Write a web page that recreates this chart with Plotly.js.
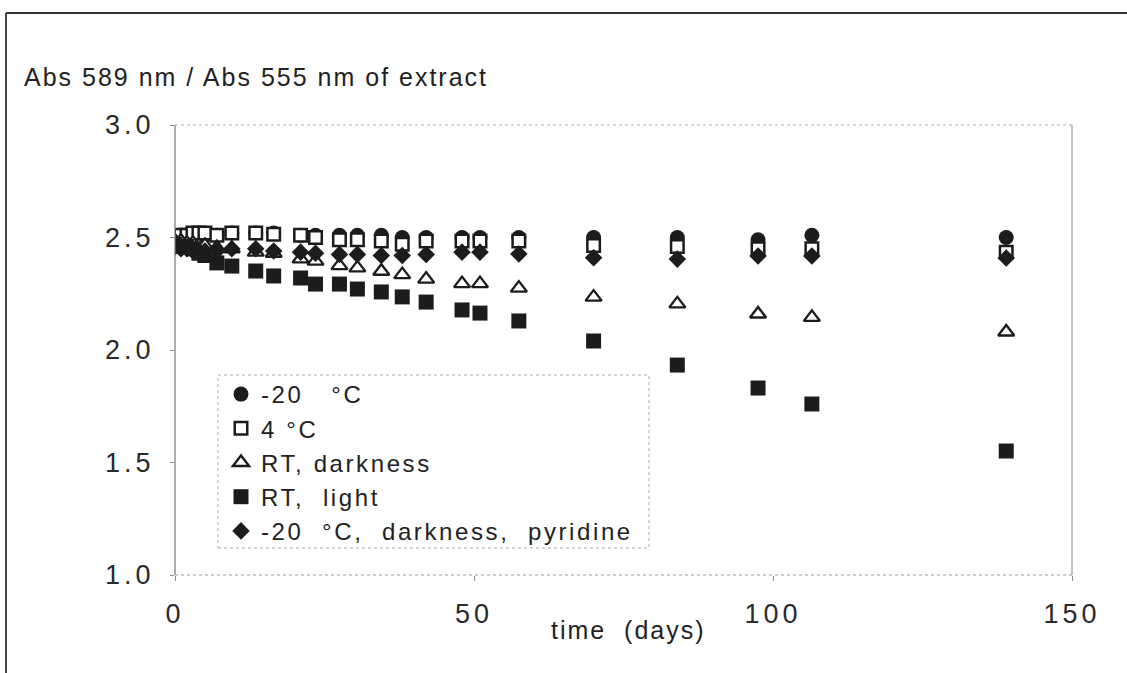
<!DOCTYPE html>
<html>
<head>
<meta charset="utf-8">
<script src="https://cdn.plot.ly/plotly-3.0.1.min.js"></script>
<style>
html,body{margin:0;padding:0;background:#fff;}
#chart{width:1127px;height:673px;}
text{letter-spacing:2px;}
.legendtext{letter-spacing:2.6px;}
#chart .xtick text, #chart .ytick text{letter-spacing:4px;}
</style>
</head>
<body>
<div id="chart"></div>
<script>
// time (days)
const days = [0,1,2,3,4,5,7,9.5,13.5,16.5,21,23.5,27.5,30.5,34.5,38,42,48,51,57.5,70,84,97.5,106.5,139];
// Abs 589 / Abs 555 ratios
const minus20C   = [2.50,2.51,2.51,2.51,2.51,2.51,2.51,2.52,2.52,2.52,2.51,2.51,2.51,2.51,2.51,2.50,2.50,2.50,2.50,2.50,2.50,2.50,2.49,2.51,2.50];
const plus4C     = [2.50,2.51,2.51,2.52,2.52,2.52,2.51,2.52,2.52,2.515,2.51,2.50,2.49,2.49,2.485,2.47,2.485,2.485,2.485,2.485,2.465,2.46,2.45,2.45,2.435];
const rtDark     = [2.485,2.485,2.475,2.475,2.465,2.465,2.455,2.45,2.435,2.43,2.405,2.395,2.375,2.365,2.35,2.335,2.315,2.295,2.295,2.275,2.235,2.205,2.16,2.145,2.08];
const rtLight    = [2.47,2.46,2.46,2.45,2.43,2.42,2.387,2.373,2.351,2.329,2.32,2.293,2.293,2.271,2.258,2.236,2.213,2.178,2.164,2.129,2.04,1.933,1.831,1.76,1.551];
const pyridine   = [2.46,2.45,2.45,2.44,2.44,2.44,2.44,2.45,2.45,2.44,2.435,2.43,2.425,2.425,2.42,2.42,2.425,2.435,2.435,2.427,2.41,2.404,2.418,2.418,2.409];
const seriesNames = ["-20 \u00a0\u00a0°C", "4 °C", "RT, darkness", "RT, \u00a0light", "-20 \u00a0°C, \u00a0darkness, \u00a0pyridine"];
const xTicks = [0,50,100,150];
const yTicks = [1.0,1.5,2.0,2.5,3.0];

const ink = "#1c1c1c";
const FONT = "Liberation Sans, Arial, sans-serif";

function tr(y, name, symbol, size, fill, lw) {
  return {
    x: days, y: y, name: name, type: "scatter", mode: "markers",
    marker: {symbol: symbol, size: size, color: fill, line: {color: ink, width: lw}},
    hoverinfo: "x+y"
  };
}

const data = [
  tr(minus20C, seriesNames[0], "circle", 15, ink, 0),
  tr(plus4C, seriesNames[1], "square", 12.5, "#ffffff", 2.5),
  tr(rtDark, seriesNames[2], "triangle-up", 14, "#ffffff", 2.4),
  tr(rtLight, seriesNames[3], "square", 15, ink, 0),
  tr(pyridine, seriesNames[4], "diamond", 13.5, ink, 0)
];

// plot area: x 175..1072, y 125..575
const L = 175, R = 1072, T = 125, B = 575;
const px = v => (v - L) / (R - L);
const py = v => (B - v) / (B - T);

const layout = {
  width: 1127, height: 673,
  margin: {l: L, r: 1127 - R, t: T, b: 673 - B},
  paper_bgcolor: "#ffffff", plot_bgcolor: "#ffffff",
  font: {family: FONT, color: "#222", size: 25},
  showlegend: true,
  legend: {
    x: px(221), y: py(372), xanchor: "left", yanchor: "top",
    bgcolor: "rgba(0,0,0,0)", borderwidth: 0,
    font: {family: FONT, size: 24, color: "#222"},
    traceorder: "normal",
    itemwidth: 30
  },
  xaxis: {
    range: [0, 150], tickvals: xTicks, ticktext: xTicks.map(String),
    showgrid: false, zeroline: false, showline: false,
    ticks: "outside", ticklen: 5, tickcolor: "#888", ticklabelstandoff: 10,
    tickfont: {family: FONT, size: 27, color: "#2a2a2a"}
  },
  yaxis: {
    range: [1.0, 3.0], tickvals: yTicks, ticktext: yTicks.map(v => v.toFixed(1)),
    showgrid: false, zeroline: false, showline: false,
    ticks: "outside", ticklen: 4, tickcolor: "#888", ticklabelstandoff: 10,
    tickfont: {family: FONT, size: 27, color: "#2a2a2a"}
  },
  annotations: [
    {text: "Abs 589 nm / Abs 555 nm of extract", xref: "paper", yref: "paper",
     x: px(22), y: py(77), xanchor: "left", yanchor: "middle", align: "left",
     showarrow: false, font: {family: FONT, size: 25, color: "#222"}},
    {text: "time \u00a0(days)", xref: "paper", yref: "paper",
     x: px(628), y: py(630), xanchor: "center", yanchor: "middle",
     showarrow: false, font: {family: FONT, size: 25, color: "#222"}}
  ],
  shapes: [
    // outer frame
    {type: "line", xref: "paper", yref: "paper", x0: px(6), x1: px(1140), y0: py(13), y1: py(13),
     line: {color: "#333", width: 2}},
    {type: "line", xref: "paper", yref: "paper", x0: px(6), x1: px(6), y0: py(13), y1: py(690),
     line: {color: "#444", width: 2}},
    // plot frame
    {type: "line", xref: "paper", yref: "paper", x0: 0, x1: 0, y0: 0, y1: 1,
     line: {color: "#777", width: 1.2}},
    {type: "line", xref: "paper", yref: "paper", x0: 0, x1: 1, y0: 0, y1: 0,
     line: {color: "#999", width: 1, dash: "dot"}},
    {type: "line", xref: "paper", yref: "paper", x0: 0, x1: 1, y0: 1, y1: 1,
     line: {color: "#aaa", width: 1, dash: "dot"}},
    {type: "line", xref: "paper", yref: "paper", x0: 1, x1: 1, y0: 0, y1: 1,
     line: {color: "#888", width: 1}},
    // legend box
    {type: "rect", xref: "paper", yref: "paper", x0: px(218), x1: px(649), y0: py(548), y1: py(375),
     line: {color: "#aaa", width: 1, dash: "dot"}, fillcolor: "rgba(0,0,0,0)", layer: "below"}
  ]
};

Plotly.newPlot("chart", data, layout, {displayModeBar: false, staticPlot: true});
</script>
</body>
</html>
